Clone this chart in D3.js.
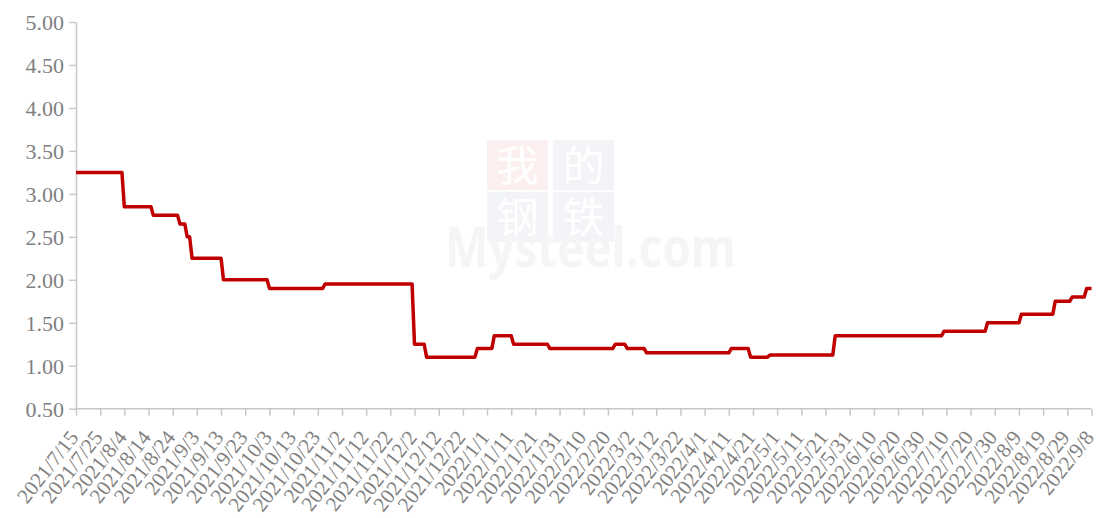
<!DOCTYPE html>
<html>
<head>
<meta charset="utf-8">
<script src="https://cdn.jsdelivr.net/npm/d3@7"></script>
<style>
  body { margin: 0; background: #fff; }
  svg { display: block; }
</style>
</head>
<body>
<div id="chart"></div>
<script>
let WIDTH = 1099;
let HEIGHT = 518;

// dates where the rate changes, and the rate from that day on
const changeDates = ["2021-07-15", "2021-08-04", "2021-08-16", "2021-08-27", "2021-08-30", "2021-09-01",
    "2021-09-14", "2021-10-03", "2021-10-26", "2021-12-02", "2021-12-07", "2021-12-28",
    "2022-01-04", "2022-01-12", "2022-01-27", "2022-02-23", "2022-02-28", "2022-03-08",
    "2022-04-12", "2022-04-20", "2022-04-28", "2022-05-25", "2022-07-09", "2022-07-27",
    "2022-08-10", "2022-08-24", "2022-08-31", "2022-09-06"];
const rates = [3.25, 2.85, 2.75, 2.65, 2.50, 2.25,
    2.00, 1.90, 1.95, 1.25, 1.10, 1.20,
    1.35, 1.25, 1.20, 1.25, 1.20, 1.15,
    1.20, 1.10, 1.125, 1.35, 1.40, 1.50,
    1.60, 1.75, 1.80, 1.90];
const endDate = "2022-09-08";

const yTicks = [0.5, 1, 1.5, 2, 2.5, 3, 3.5, 4, 4.5, 5];
const xTickStep = 10; // days between date labels

const parse = d3.timeParse("%Y-%m-%d");
const fmt = d3.timeFormat("%Y/%-m/%-d");
const SERIF = '"Liberation Serif", "Times New Roman", serif';

const SVG = d3.select('#chart').append('svg')
    .attr('width', WIDTH).attr('height', HEIGHT);

const start = parse(changeDates[0]);
const end = parse(endDate);

const x = d3.scaleTime().domain([start, end]).range([76, 1091.5]);
const y = d3.scaleLinear().domain([0.5, 5]).range([408.7, 22]);

// watermark
let wm = SVG.append('g').attr('id', 'watermark');
const wmBoxes = [
    { t: '我', x: 487, y: 140, c: '#fcefef' },
    { t: '的', x: 553, y: 140, c: '#f3f4f8' },
    { t: '钢', x: 487, y: 192, c: '#f3f4f8' },
    { t: '铁', x: 553, y: 192, c: '#f3f4f8' }
];
wm.selectAll('rect').data(wmBoxes).join('rect')
    .attr('x', d => d.x).attr('y', d => d.y)
    .attr('width', 61).attr('height', 50).attr('fill', d => d.c);
wm.selectAll('text.cn').data(wmBoxes).join('text').attr('class', 'cn')
    .attr('x', d => d.x + 30.5).attr('y', d => d.y + 41)
    .attr('text-anchor', 'middle').attr('font-size', 42)
    .attr('font-family', '"Noto Sans CJK SC", sans-serif')
    .attr('fill', '#ffffff').text(d => d.t);
wm.append('text').attr('x', 445).attr('y', 267)
    .attr('font-size', 56).attr('font-weight', 'bold')
    .attr('font-family', '"Open Sans", "DejaVu Sans", sans-serif')
    .attr('textLength', 291).attr('lengthAdjust', 'spacingAndGlyphs')
    .attr('fill', '#f5f5f5').text('Mysteel.com');

// axes
const yAxis = d3.axisLeft(y).tickValues(yTicks).tickFormat(d3.format('.2f')).tickSize(7).tickSizeOuter(0);
let gy = SVG.append('g').attr('transform', 'translate(76,0)').call(yAxis);
gy.selectAll('text').attr('x', -12).attr('dy', '0.35em')
    .attr('font-size', 22).attr('font-family', SERIF)
    .attr('fill', '#7f7f7f');

const xTickDates = d3.range(0, d3.timeDay.count(start, end) + 1, xTickStep).map(d => d3.timeDay.offset(start, d));
const xAxis = d3.axisBottom(x).tickValues(xTickDates).tickFormat(fmt).tickSize(7).tickSizeOuter(0);
let gx = SVG.append('g').attr('transform', 'translate(0,408.7)').call(xAxis);
gx.attr('font-family', SERIF);
gx.selectAll('text')
    .attr('font-size', 21).attr('font-family', SERIF)
    .attr('fill', '#7f7f7f')
    .attr('text-anchor', 'end')
    .attr('x', 0).attr('y', 0).attr('dy', 0)
    .attr('transform', 'translate(3,29) rotate(-52)');

SVG.selectAll('.domain, .tick line').attr('stroke', '#c8c8c8').attr('stroke-width', 1.5);
gx.select('.domain').attr('d', 'M76,0H1091.5');

// step series, each change drawn over one day
let pts = [];
changeDates.forEach((d, i) => {
    const dt = parse(d);
    if (i > 0) pts.push([d3.timeDay.offset(dt, -1), rates[i - 1]]);
    pts.push([dt, rates[i]]);
});
pts.push([end, rates[rates.length - 1]]);

SVG.append('path').datum(pts)
    .attr('fill', 'none').attr('stroke', '#c00000').attr('stroke-width', 3.5)
    .attr('stroke-linejoin', 'round')
    .attr('d', d3.line().x(d => x(d[0])).y(d => y(d[1])));
</script>
</body>
</html>
